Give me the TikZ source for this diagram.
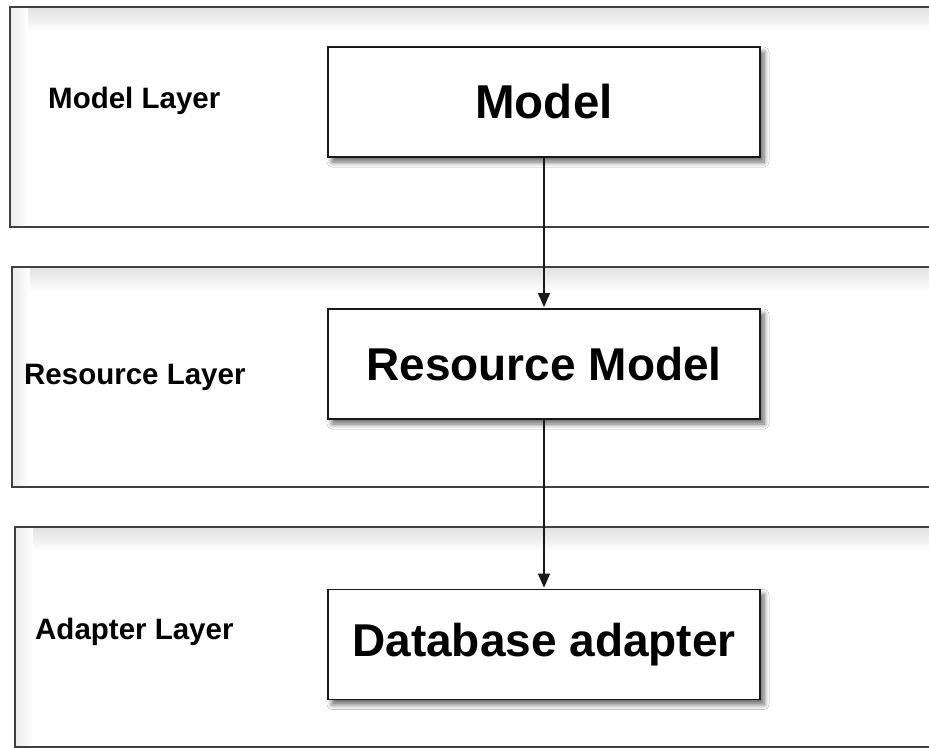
\documentclass[tikz,border=0pt]{standalone}
\usepackage{fontspec}
\setmainfont{Liberation Sans}
\usetikzlibrary{shadows,shadows.blur,arrows.meta,positioning}
\begin{document}
\begin{tikzpicture}[x=1pt,y=-1pt,
  layerbox/.style={fill=white, anchor=north west, inner sep=0pt, outer sep=0pt},
  layerline/.style={draw=black!75, line width=1.6pt},
  compbox/.style={draw=black!90, line width=1.8pt, fill=white, minimum width=432pt, minimum height=110pt, inner sep=0pt,
    blur shadow={shadow xshift=4pt, shadow yshift=-5pt, shadow blur steps=8, shadow blur radius=5pt, shadow opacity=60}},
  layerlabel/.style={font=\fontsize{29.5}{32}\selectfont\bfseries, anchor=west, inner sep=0pt},
  comptext/.style={font=\fontsize{46}{50}\selectfont\bfseries},
  flow/.style={-{Triangle[length=14pt,width=12pt]}, line width=1.4pt, draw=black!90, shorten >=1pt}
]
\useasboundingbox (0,0) rectangle (929,747);
\clip (0,0) rectangle (929,747);
\fill[white] (0,0) rectangle (929,747);

% layer boxes
\node[layerbox, minimum width=940pt, minimum height=220pt] (ml) at (10,7) {};
\node[layerbox, minimum width=940pt, minimum height=220pt] (rl) at (12,267) {};
\node[layerbox, minimum width=940pt, minimum height=220pt] (al) at (15,527) {};

% inner shading of the layer boxes, then their borders
\foreach \t in {ml,rl,al}{
  \shade[top color=black!12, bottom color=white] (\t.north west) rectangle ([yshift=-24pt]\t.north east);
  \shade[left color=black!8, right color=white] (\t.north west) rectangle ([xshift=18pt]\t.south west);
  \draw[layerline] (\t.north west) rectangle (\t.south east);
}

% layer labels
\node[layerlabel] (mlt) at (48,101) {Model Layer};
\node[layerlabel] (rlt) at (24,377) {Resource Layer};
\node[layerlabel] (alt) at (35,632) {Adapter Layer};

% component boxes
\node[compbox] (model) at (544,102) {};
\node[comptext] (modelt) at (model.center) {\fontsize{47.5}{50}\selectfont Model};
\node[compbox] (res) at (544,364) {};
\node[comptext] (rest) at (res.center) {Resource Model};
\node[compbox] (db) at (544,644.5) {};
\node[comptext] (dbt) at (db.center) {Database adapter};

% connectors
\draw[flow] (model.south) -- (res.north);
\draw[flow] (res.south) -- (db.north);
\end{tikzpicture}
\end{document}
